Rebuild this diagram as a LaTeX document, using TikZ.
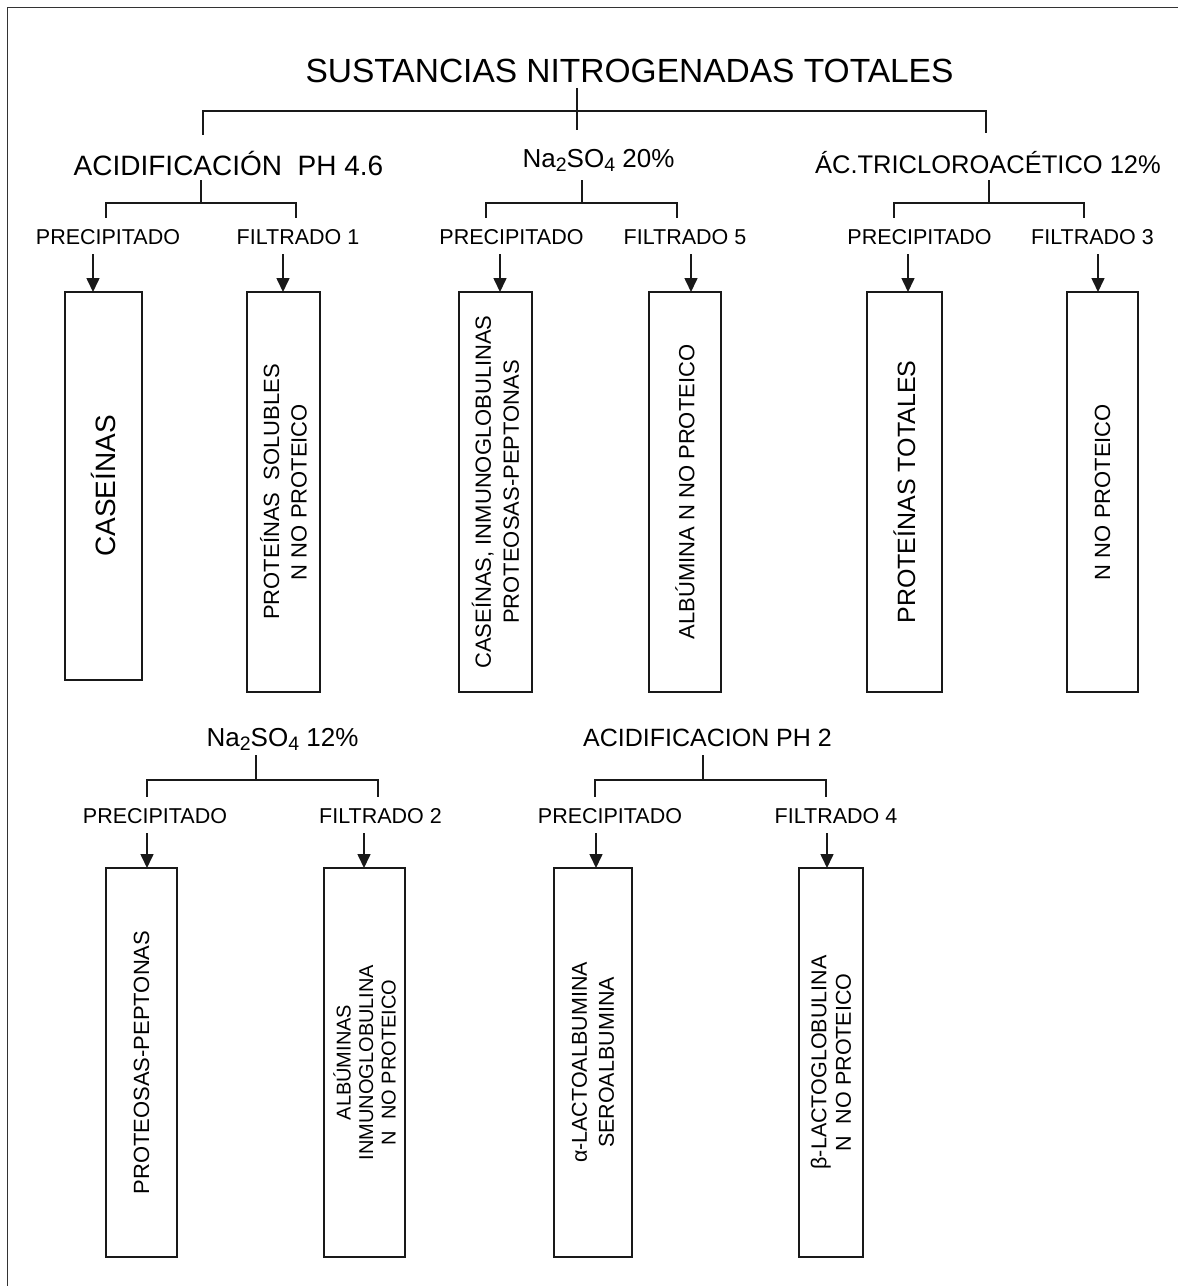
\documentclass[tikz,border=0pt]{standalone}
\usepackage{fontspec}
\setmainfont{Liberation Sans}
\usetikzlibrary{arrows.meta}
\newcommand\fsz[2]{\fontsize{#1pt}{#2pt}\selectfont}
\newcommand\mysub[1]{\raisebox{-4.5pt}{\fsz{19.5}{20}#1}}
\begin{document}
\begin{tikzpicture}[x=1pt,y=-1pt,
  conn/.style={line width=1.6pt, draw=black!90},
  arr/.style={conn, -{Triangle[length=14pt,width=13pt]}},
  box/.style={draw=black!90, line width=1.7pt, inner sep=0pt, outer sep=0pt},
  lab/.style={inner sep=0pt, anchor=base, text height=16pt, text depth=0pt, outer ysep=10pt, font=\fsz{21.5}{26}},
  lv1/.style={inner sep=0pt, anchor=base, text height=40pt, text depth=5pt},
  btxt/.style={rotate=90, align=center, inner sep=0pt}
]
\useasboundingbox (0,0) rectangle (1178,1286);
\fill[white] (0,0) rectangle (1178,1286);
% frame
\draw[line width=1.3pt, black!80] (7.5,1286) -- (7.5,7.5) -- (1178,7.5);

% ---------- top tree ----------
\node[inner sep=0pt, anchor=base, text height=24pt, text depth=0pt, outer ysep=6pt, font=\fsz{33.5}{40}] (root) at (629.5,82) {SUSTANCIAS NITROGENADAS TOTALES};

\node[lv1, font=\fsz{28}{34}] (acid) at (228.5,175) {ACIDIFICACIÓN\ \ PH 4.6};
\node[lv1, text height=37pt, text depth=13pt, font=\fsz{26}{32}] (na20) at (598.5,167) {Na\mysub{2}SO\mysub{4} 20\%};
\node[lv1, text depth=7pt, font=\fsz{25.5}{31}] (atc) at (988,173) {ÁC.TRICLOROACÉTICO 12\%};

\coordinate (rootj) at (577,111);
\coordinate (dA) at (203,0);
\coordinate (dC) at (986,0);
\draw[conn] (rootj |- root.south) -- (rootj |- na20.north);
\draw[conn] (rootj) -| (acid.north -| dA);
\draw[conn] (rootj) -| (atc.north -| dC);

% level 2 labels
\node[lab] (p1) at (108,244) {PRECIPITADO};
\node[lab] (f1) at (298,244) {FILTRADO 1};
\node[lab] (p2) at (511.5,244) {PRECIPITADO};
\node[lab] (f5) at (685,244) {FILTRADO 5};
\node[lab] (p3) at (919.5,244) {PRECIPITADO};
\node[lab] (f3) at (1092.5,244) {FILTRADO 3};

% brackets level 1 -> level 2
\coordinate (acidj) at (201,203);
\coordinate (na20j) at (582,203);
\coordinate (atcj) at (989,203);
\coordinate (x1) at (106,0);  \coordinate (x2) at (296,0);
\coordinate (x3) at (486,0);  \coordinate (x4) at (677,0);
\coordinate (x5) at (894,0);  \coordinate (x6) at (1084,0);
\draw[conn] (acidj |- acid.south) -- (acidj);
\draw[conn] (acidj) -| (p1.north -| x1);
\draw[conn] (acidj) -| (f1.north -| x2);
\draw[conn] (na20j |- na20.south) -- (na20j);
\draw[conn] (na20j) -| (p2.north -| x3);
\draw[conn] (na20j) -| (f5.north -| x4);
\draw[conn] (atcj |- atc.south) -- (atcj);
\draw[conn] (atcj) -| (p3.north -| x5);
\draw[conn] (atcj) -| (f3.north -| x6);

% boxes top row
\node[box, minimum width=77pt, minimum height=388pt] (b1) at (103.5,486) {};
\node[box, minimum width=73pt, minimum height=400pt] (b2) at (283.5,492) {};
\node[box, minimum width=73pt, minimum height=400pt] (b3) at (495.5,492) {};
\node[box, minimum width=72pt, minimum height=400pt] (b4) at (685,492) {};
\node[box, minimum width=75pt, minimum height=400pt] (b5) at (904.5,492) {};
\node[box, minimum width=71pt, minimum height=400pt] (b6) at (1102.5,492) {};

\node[btxt, font=\fsz{28}{34}] (t1) at (b1.center) {CASEÍNAS};
\node[btxt, font=\fsz{22}{27.5}] (t2) at (b2.center) {PROTEÍNAS\ \ SOLUBLES\\N NO PROTEICO};
\node[btxt, font=\fsz{22}{28}] (t3) at (b3.center) {CASEÍNAS, INMUNOGLOBULINAS\\PROTEOSAS-PEPTONAS};
\node[btxt, font=\fsz{22}{27}] (t4) at (b4.center) {ALBÚMINA N NO PROTEICO};
\node[btxt, font=\fsz{25}{30}] (t5) at (b5.center) {PROTEÍNAS TOTALES};
\node[btxt, font=\fsz{22}{27}] (t6) at (b6.center) {N NO PROTEICO};

% arrows top row
\coordinate (a1) at (93,0);   \coordinate (a2) at (283,0);
\coordinate (a3) at (500,0);  \coordinate (a4) at (691,0);
\coordinate (a5) at (908,0);  \coordinate (a6) at (1098,0);
\draw[arr] (p1.south -| a1) -- (a1 |- b1.north);
\draw[arr] (f1.south -| a2) -- (a2 |- b2.north);
\draw[arr] (p2.south -| a3) -- (a3 |- b3.north);
\draw[arr] (f5.south -| a4) -- (a4 |- b4.north);
\draw[arr] (p3.south -| a5) -- (a5 |- b5.north);
\draw[arr] (f3.south -| a6) -- (a6 |- b6.north);

% ---------- bottom trees ----------
\node[lv1, text height=18pt, text depth=9pt, font=\fsz{26}{32}] (na12) at (282.5,746) {Na\mysub{2}SO\mysub{4} 12\%};
\node[lv1, text height=18pt, text depth=9pt, font=\fsz{25}{31}] (acid2) at (707.5,746) {ACIDIFICACION PH 2};

\node[lab] (p4) at (155,823) {PRECIPITADO};
\node[lab] (f2) at (380.5,823) {FILTRADO 2};
\node[lab] (p5) at (610,823) {PRECIPITADO};
\node[lab] (f4) at (836,823) {FILTRADO 4};

\coordinate (na12j) at (256,780);
\coordinate (acid2j) at (703,780);
\coordinate (x7) at (147,0);  \coordinate (x8) at (378,0);
\coordinate (x9) at (595,0);  \coordinate (x10) at (826,0);
\draw[conn] (na12j |- na12.south) -- (na12j);
\draw[conn] (na12j) -| (p4.north -| x7);
\draw[conn] (na12j) -| (f2.north -| x8);
\draw[conn] (acid2j |- acid2.south) -- (acid2j);
\draw[conn] (acid2j) -| (p5.north -| x9);
\draw[conn] (acid2j) -| (f4.north -| x10);

\node[box, minimum width=71pt, minimum height=389pt] (b7) at (141.5,1062.5) {};
\node[box, minimum width=81pt, minimum height=389pt] (b8) at (364.5,1062.5) {};
\node[box, minimum width=78pt, minimum height=389pt] (b9) at (593,1062.5) {};
\node[box, minimum width=64pt, minimum height=389pt] (b10) at (831,1062.5) {};

\node[btxt, font=\fsz{22}{27}] (t7) at (b7.center) {PROTEOSAS-PEPTONAS};
\node[btxt, font=\fsz{20}{22.5}] (t8) at (b8.center) {ALBÚMINAS\\INMUNOGLOBULINA\\N\ \ NO PROTEICO};
\node[btxt, font=\fsz{21.5}{27}] (t9) at (b9.center) {α-LACTOALBUMINA\\SEROALBUMINA};
\node[btxt, font=\fsz{21.5}{24.5}] (t10) at (b10.center) {β-LACTOGLOBULINA\\N\ \ NO PROTEICO};

\coordinate (a7) at (147,0);  \coordinate (a8) at (364,0);
\coordinate (a9) at (596,0);  \coordinate (a10) at (827,0);
\draw[arr] (p4.south -| a7) -- (a7 |- b7.north);
\draw[arr] (f2.south -| a8) -- (a8 |- b8.north);
\draw[arr] (p5.south -| a9) -- (a9 |- b9.north);
\draw[arr] (f4.south -| a10) -- (a10 |- b10.north);
\end{tikzpicture}
\end{document}
